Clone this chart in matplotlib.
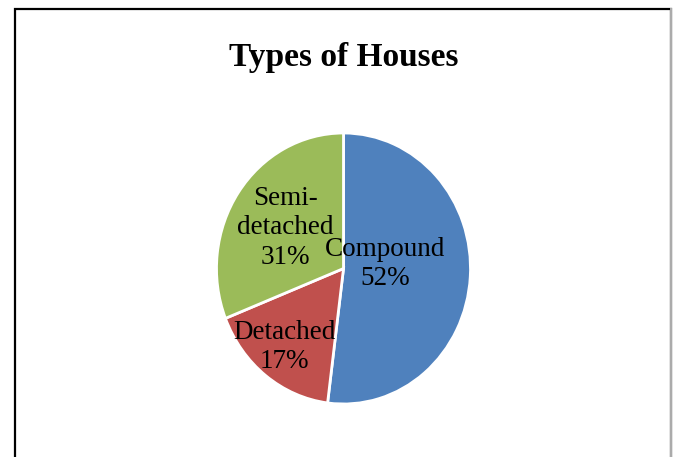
import matplotlib.pyplot as plt
from matplotlib.patches import Rectangle

plt.rcParams['font.family'] = ['Liberation Serif', 'DejaVu Serif']

house_types = ['Compound', 'Detached', 'Semi-\ndetached']
shares = [52, 17, 31]
colors = ['#4F81BD', '#C0504D', '#9BBB59']
# label centres in pie units (radius = 1)
label_pos = [(0.33, 0.035), (-0.465, -0.58), (-0.457, 0.30)]

W, H = 676, 457
fig = plt.figure(figsize=(W / 100, H / 100), dpi=100)

# chart frame (open at the bottom)
fig.add_artist(Rectangle((15 / W, -0.1), (671 - 15) / W, (H - 9) / H + 0.1,
                         transform=fig.transFigure, fill=False,
                         edgecolor='black', linewidth=1.6))
fig.add_artist(plt.Line2D([671 / W, 671 / W], [0, (H - 9) / H],
                          transform=fig.transFigure, color='#b0b0b0', linewidth=1.4))

fig.text(343.5 / W, (H - 66) / H, 'Types of Houses', ha='center', va='baseline',
         fontsize=24, fontweight='bold')

ax = fig.add_axes([216.5 / W, (H - 404) / H, 254 / W, 271 / H])
wedges, _ = ax.pie(shares, colors=colors, startangle=90, counterclock=False,
                   wedgeprops=dict(edgecolor='white', linewidth=2))
ax.set_aspect('auto')
ax.set_xlim(-1, 1)
ax.set_ylim(-1, 1)
ax.axis('off')

for name, val, (x, y) in zip(house_types, shares, label_pos):
    ax.text(x, y, f'{name}\n{val}%', ha='center', va='center',
            fontsize=19.5, linespacing=1.22)

fig.savefig('out.png', dpi=100)
